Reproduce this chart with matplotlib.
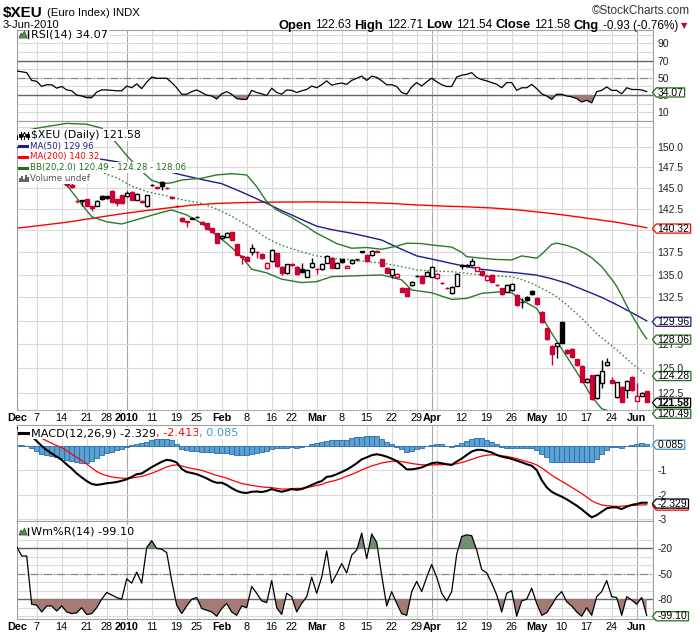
import matplotlib
matplotlib.use('Agg')
import matplotlib.pyplot as plt
import numpy as np
from matplotlib import transforms, font_manager
from matplotlib.path import Path
from matplotlib.patches import Rectangle, Polygon
from matplotlib.lines import Line2D
from matplotlib.ticker import NullLocator, NullFormatter

# trading day index: 0 = 1-Dec-2009 ... 126 = 3-Jun-2010
opens = [150.0,150.9,150.6,150.65,148.55,148.1,147.0,147.6,147.3,146.2,
         145.55,145.3,143.45,143.6,143.65,142.8,142.86,144.04,144.0,144.63,
         143.64,144.16,144.04,144.55,143.56,143.4,142.86,145.3,145.05,145.74,
         145.0,143.9,142.9,141.5,141.05,141.35,141.55,141.0,140.84,140.26,
         139.68,139.11,139.29,139.79,138.46,137.05,137.02,137.58,137.55,137.33,
         135.71,136.5,137.4,135.89,135.16,136.2,135.89,135.6,134.78,135.82,
         135.62,135.6,136.35,136.9,135.78,136.72,135.78,136.27,136.7,137.55,
         137.22,137.22,137.62,136.72,135.71,134.97,134.78,133.56,133.5,133.86,
         134.82,134.86,134.86,134.78,134.6,134.1,133.55,132.94,133.78,136.0,
         136.0,136.08,135.45,135.45,134.42,134.97,133.9,133.5,133.12,133.31,
         132.76,131.95,132.57,133.23,132.4,130.95,129.18,127.32,127.34,129.79,
         126.9,126.97,125.9,125.23,123.6,124.31,122.0,123.53,125.32,123.8,
         122.04,123.12,122.73,124.07,121.71,122.2,122.63]
highs = [151.4,151.3,151.4,150.9,148.9,148.4,147.9,147.9,147.6,146.6,
         145.75,145.6,143.6,143.6,143.7,142.9,143.6,144.1,144.05,144.7,
         143.7,144.2,144.63,144.6,144.4,143.6,144.2,145.45,145.15,145.8,
         145.1,144.0,143.0,141.6,141.15,141.55,141.7,141.05,140.9,140.3,
         139.7,139.45,139.8,139.85,138.5,137.2,137.1,138.46,137.65,137.4,
         136.4,137.85,137.45,135.95,136.2,136.3,135.95,136.27,135.6,136.9,
         135.75,136.3,137.2,137.0,136.45,136.8,136.1,136.75,136.8,137.7,
         137.3,137.8,137.75,136.8,135.8,135.65,135.15,133.6,133.55,134.3,
         135.0,134.95,135.4,136.0,135.15,134.2,133.65,133.75,135.15,136.15,
         136.2,136.9,135.9,135.5,135.0,135.05,134.0,133.55,133.95,134.05,
         132.85,132.4,132.65,133.35,132.5,131.0,129.25,127.4,127.75,129.9,
         127.0,127.05,125.95,125.3,123.95,124.35,124.4,125.83,126.0,124.07,
         123.6,123.2,123.8,124.15,123.46,122.6,122.71]
lows = [149.9,150.3,150.3,148.3,147.9,146.9,146.8,147.0,146.0,145.9,
        145.15,145.0,143.2,142.8,142.85,142.3,142.8,143.6,143.7,143.3,
        142.86,143.1,143.95,143.5,143.5,143.2,142.77,145.2,144.9,144.75,
        144.85,143.7,142.7,141.0,140.4,141.3,141.5,140.7,140.15,139.8,
        138.55,139.05,139.2,138.85,137.15,136.2,136.5,137.22,136.84,136.8,
        135.6,136.45,135.9,134.97,135.1,136.0,135.0,135.16,134.7,135.75,
        135.1,135.5,136.3,135.7,135.7,136.3,135.7,136.2,136.55,137.45,
        136.5,137.1,137.5,135.95,135.2,134.6,134.75,133.05,132.6,133.8,
        134.7,134.0,134.8,134.7,134.55,133.95,133.4,132.9,133.7,135.6,
        135.85,136.0,135.4,134.9,134.35,134.15,133.75,132.8,133.05,133.25,
        131.6,131.3,132.15,132.8,131.7,129.7,127.9,125.32,126.1,127.6,
        126.45,126.05,125.2,123.55,123.5,121.8,121.9,122.97,125.25,123.45,
        121.95,121.55,121.94,122.65,121.65,122.15,121.54]
closes = [150.9,150.6,150.65,148.55,148.1,147.0,147.6,147.3,146.2,146.3,
          145.3,145.15,143.4,143.45,142.9,142.6,143.46,143.64,143.76,143.36,
          143.17,143.15,144.44,143.56,144.28,143.36,144.16,145.35,145.0,145.23,
          144.95,143.85,142.86,141.1,141.0,141.42,141.6,140.8,140.2,139.86,
          138.6,139.37,139.68,138.91,137.22,137.0,136.55,138.05,137.5,136.84,
          136.34,137.78,135.97,135.16,136.16,136.1,135.1,135.33,135.52,136.34,
          135.58,136.2,137.1,135.78,136.34,136.38,136.0,136.65,136.72,137.6,
          136.58,137.66,137.58,136.0,135.24,135.6,135.08,133.12,132.68,134.23,
          134.86,134.05,135.33,135.89,135.08,134.05,133.5,133.67,135.08,136.04,
          136.08,136.53,135.8,134.97,134.9,134.23,133.85,132.87,133.86,133.97,
          131.68,132.0,132.21,132.87,131.8,129.79,128.0,126.48,127.6,127.65,
          126.55,126.14,125.28,123.63,123.87,121.84,124.31,124.75,125.66,123.53,
          123.55,121.6,123.7,122.73,122.19,122.51,121.58]

ma50_idx = [0,5,10,15,17,20,24,29,33,37,41,45,48,50,53,55,58,60,63,67,
            70,73,76,78,80,83,87,90,93,97,100,104,107,110,113,117,120,123,126]
ma50 = [149.6,149.35,149.05,148.65,148.45,148.15,147.7,147.15,146.55,146.0,
        145.5,144.5,143.7,143.17,142.3,141.8,141.0,140.5,140.1,139.68,
        139.3,138.9,138.1,137.6,137.1,136.75,136.25,135.9,135.6,135.35,
        135.2,134.95,134.55,134.05,133.4,132.5,131.7,130.85,129.96]
ma200_idx = [0,5,10,15,20,25,30,35,40,45,50,55,60,65,70,75,80,85,90,95,100,105,110,115,120,126]
ma200 = [140.26,140.6,140.95,141.4,141.85,142.25,142.6,142.95,143.15,143.25,143.3,143.32,143.33,
         143.3,143.25,143.15,142.97,142.85,142.75,142.62,142.4,142.1,141.75,141.35,140.95,140.32]
bb_up_idx = [0,5,10,14,17,20,22,25,27,29,31,33,37,40,43,46,48,50,52,55,
             58,60,62,64,67,70,73,76,78,81,83,87,89,90,93,96,99,101,104,105,
             107,108,110,112,113,115,117,119,120,121,122,123,124,125,126]
bb_up = [151.8,152.4,152.9,152.8,152.3,150.4,148.9,147.0,145.9,145.5,
         145.6,145.94,146.15,146.55,146.7,146.55,145.14,143.36,142.38,141.5,
         140.44,139.68,139.1,138.5,137.97,138.05,137.85,138.2,138.54,138.5,
         138.34,138.1,137.5,137.02,136.84,136.7,136.65,137.1,136.84,137.3,
         138.4,138.55,138.3,137.9,137.58,136.9,135.9,134.5,133.7,132.7,
         131.6,130.6,129.7,128.8,128.06]
bb_mid_idx = [0,5,10,14,17,20,23,26,30,33,37,40,43,47,50,53,57,60,63,67,
              70,73,77,80,84,87,90,93,96,99,101,103,106,108,110,113,116,120,123,126]
bb_mid = [149.0,148.5,147.7,147.2,146.85,146.2,145.2,144.55,144.04,143.6,
          143.15,142.5,141.65,140.3,139.1,138.3,137.55,137.1,136.85,136.65,
          136.45,136.3,135.9,135.52,135.4,135.33,135.15,134.97,134.85,134.75,
          134.45,134.05,133.2,132.57,131.7,130.25,128.6,126.9,125.5,124.28]
bb_lo_idx = [0,5,8,10,12,14,15,18,21,25,29,31,34,37,39,42,45,47,50,53,
             57,60,63,67,73,77,79,83,87,90,93,97,99,101,104,107,110,113,115,117,
             119,121,123,126]
bb_lo = [148.5,146.8,145.9,145.35,143.8,142.3,141.6,141.0,140.75,141.42,
         142.1,142.38,141.8,140.84,139.86,138.54,137.02,135.6,135.2,134.5,
         134.12,134.23,134.78,134.86,134.97,134.42,133.31,133.0,132.28,132.39,
         132.94,133.12,133.0,132.21,131.3,128.65,126.2,123.8,122.1,120.9,
         120.6,120.5,120.45,120.49]

rsi = [58,57,56,47,46,40,42,42,38,40, 36,35,30,29,27,27,33.5,36,36,35.5,
       35,35,40.5,38.5,43,37.5,45,51,49.5,49.5, 49.5,44.5,38.5,31,31,34,36,33,30,29,
       25.5,31.5,34,31,26,25,25,35.5,33,31.5, 29.5,38,33,31,36,35.5,33,35,36.5,40.5,
       38.5,42,46.5,41.5,43,44,42.5,47,49.5,52, 47,52,50.5,46.5,42,42,40,33,31,39.5,
       44.5,40.5,45.5,49.5,45.5,42,40,40,51,53, 54,56,50.5,48,46.5,44.5,42.5,38.5,44.5,44.5,
       35.5,38.5,38.5,42.5,37.5,31.5,29,25,31,31, 29,28,26,22,24,21,34,35.5,39.5,35.5,
       35.5,31.5,38.5,36.5,36.5,36,34.07]

macd = [0.75,0.65,0.52,0.40,0.20,0.0,-0.17,-0.31,-0.44,-0.57,
        -0.76,-0.93,-1.13,-1.29,-1.44,-1.56,-1.60,-1.57,-1.53,-1.51,
        -1.48,-1.43,-1.37,-1.27,-1.16,-1.13,-1.00,-0.87,-0.76,-0.65,
        -0.57,-0.60,-0.68,-0.94,-1.07,-1.11,-1.16,-1.24,-1.33,-1.44,
        -1.51,-1.51,-1.60,-1.73,-1.84,-1.91,-1.93,-1.88,-1.87,-1.89,
        -1.85,-1.77,-1.83,-1.88,-1.83,-1.77,-1.80,-1.77,-1.69,-1.60,
        -1.51,-1.44,-1.27,-1.24,-1.16,-1.07,-0.97,-0.85,-0.71,-0.55,
        -0.47,-0.38,-0.34,-0.38,-0.44,-0.52,-0.62,-0.78,-0.96,-0.96,
        -0.93,-0.88,-0.79,-0.71,-0.68,-0.71,-0.75,-0.78,-0.64,-0.52,
        -0.37,-0.23,-0.16,-0.16,-0.21,-0.27,-0.37,-0.44,-0.48,-0.53,
        -0.60,-0.67,-0.75,-0.81,-0.99,-1.40,-1.70,-1.88,-1.99,-2.08,
        -2.19,-2.32,-2.45,-2.60,-2.77,-2.93,-2.84,-2.70,-2.56,-2.52,
        -2.52,-2.59,-2.49,-2.42,-2.38,-2.33,-2.329]
signal = [0.72,0.63,0.55,0.48,0.40,0.31,0.21,0.11,0.02,-0.07,
          -0.20,-0.33,-0.47,-0.60,-0.74,-0.90,-1.05,-1.15,-1.22,-1.27,
          -1.30,-1.32,-1.33,-1.32,-1.28,-1.25,-1.19,-1.12,-1.04,-0.95,
          -0.86,-0.80,-0.78,-0.82,-0.88,-0.92,-0.96,-1.00,-1.07,-1.14,
          -1.21,-1.26,-1.32,-1.40,-1.47,-1.54,-1.58,-1.62,-1.65,-1.68,
          -1.70,-1.71,-1.74,-1.77,-1.77,-1.75,-1.74,-1.74,-1.71,-1.67,
          -1.62,-1.58,-1.50,-1.45,-1.40,-1.33,-1.24,-1.17,-1.08,-0.98,
          -0.90,-0.82,-0.76,-0.70,-0.66,-0.63,-0.62,-0.64,-0.68,-0.72,
          -0.75,-0.77,-0.78,-0.78,-0.77,-0.77,-0.76,-0.76,-0.73,-0.68,
          -0.62,-0.55,-0.48,-0.42,-0.38,-0.36,-0.37,-0.40,-0.43,-0.47,
          -0.52,-0.58,-0.64,-0.70,-0.78,-0.90,-1.05,-1.20,-1.33,-1.45,
          -1.57,-1.70,-1.82,-1.95,-2.10,-2.25,-2.35,-2.42,-2.45,-2.47,
          -2.48,-2.47,-2.45,-2.44,-2.43,-2.42,-2.413]
hist = [0.03,0.02,-0.02,-0.09,-0.20,-0.31,-0.37,-0.41,-0.47,-0.51,
        -0.56,-0.60,-0.65,-0.68,-0.69,-0.60,-0.49,-0.39,-0.29,-0.23,
        -0.16,-0.11,-0.04,0.05,0.09,0.13,0.17,0.23,0.27,0.28,
        0.28,0.25,0.10,-0.12,-0.17,-0.20,-0.21,-0.23,-0.23,-0.25,
        -0.29,-0.27,-0.27,-0.31,-0.36,-0.37,-0.37,-0.33,-0.29,-0.25,
        -0.20,-0.12,-0.09,-0.08,-0.07,-0.04,-0.07,-0.03,0.01,0.07,
        0.11,0.15,0.20,0.23,0.24,0.25,0.25,0.32,0.36,0.38,
        0.40,0.41,0.40,0.27,0.18,0.08,-0.03,-0.12,-0.23,-0.19,
        -0.12,-0.07,0.0,0.05,0.10,0.07,0.0,-0.04,0.04,0.11,
        0.22,0.30,0.34,0.32,0.25,0.18,0.08,-0.05,-0.07,-0.07,
        -0.08,-0.07,-0.08,-0.08,-0.16,-0.34,-0.47,-0.67,-0.67,-0.67,
        -0.67,-0.66,-0.67,-0.67,-0.67,-0.64,-0.55,-0.33,-0.16,-0.05,
        -0.03,-0.07,0.01,0.04,0.07,0.11,0.085]

willr = [-18,-29,-29,-86,-87,-95,-88,-88,-94,-88,
         -95,-97,-96,-90,-98,-97,-90,-80,-72,-75,
         -78,-80,-56,-61,-48,-61,-19,-11,-20,-21,
         -25,-58,-87,-97,-88,-80,-78,-91,-93,-95,
         -100,-91,-85,-95,-99,-88,-90,-65,-73,-82,
         -84,-58,-90,-98,-73,-77,-95,-85,-77,-54,
         -73,-54,-23,-61,-50,-38,-49,-28,-22,-2,
         -32,-3,-13,-52,-88,-71,-85,-97,-99,-71,
         -59,-71,-54,-39,-54,-73,-82,-71,-27,-6,
         -4,-5,-22,-45,-49,-61,-75,-95,-73,-70,
         -100,-82,-80,-67,-85,-99,-96,-87,-77,-71,
         -83,-88,-95,-100,-90,-99,-77,-71,-58,-77,
         -78,-99,-77,-81,-86,-78,-99.1]

label_idx = [0,4,9,14,18,22,27,32,36,41,46,51,55,60,65,70,75,80,83,89,94,99,104,109,114,119,124]
label_txt = ['Dec','7','14','21','28','2010','11','19','25','Feb','8','16','22','Mar','8','15',
             '22','29','Apr','12','19','26','May','10','17','24','Jun']
grid_idx = [0,4,9,14,18,22,27,32,36,41,46,51,55,60,65,70,75,80,83,84,89,94,99,104,109,114,119,124]
dark_idx = [22,83,124]

W, H = 700, 639
names = {f.name for f in font_manager.fontManager.ttflist}
NARROW = 'Liberation Sans Narrow' if 'Liberation Sans Narrow' in names else 'Liberation Sans'
plt.rcParams['font.family'] = ['Liberation Sans', 'DejaVu Sans']
VER = ['DejaVu Sans']

RED = '#cc0033'
GRID = '#dadada'
BORDER = '#a0a0a0'

fig = plt.figure(figsize=(7.0, 6.39), dpi=100)


def fx(x):
    return x / W


def fy(y):
    return 1 - y / H


def panel(top, bottom):
    return fig.add_axes([fx(16.7), fy(bottom), (653.2 - 16.7) / W, (bottom - top) / H])


ax_rsi = panel(30, 121)
ax_px = panel(121, 410)
ax_macd = panel(425, 521)
ax_wr = panel(521, 619.3)
axes = [ax_rsi, ax_px, ax_macd, ax_wr]

x = np.arange(len(closes))
for ax in axes:
    ax.set_xlim(0, 127.3)
    for s in ax.spines.values():
        s.set_color(BORDER)
        s.set_linewidth(0.8)
    for g in grid_idx:
        ax.axvline(g, color='#a8a8a8' if g in dark_idx else GRID, lw=0.8, zorder=0)
    ax.yaxis.tick_right()
    ax.tick_params(axis='both', length=0, labelsize=7.5, labelcolor='#202020')
    ax.tick_params(axis='y', pad=3)
    ax.set_xticks([])
ax_px.spines['bottom'].set_linestyle((0, (1, 1.5)))

for ax in (ax_px, ax_wr):
    ax.set_xticks(label_idx)
    ax.set_xticklabels(label_txt)
    ax.tick_params(axis='x', pad=2, labelsize=7.8, labelcolor='black')
    for t in ax.get_xticklabels():
        if not t.get_text().isdigit() or t.get_text() == '2010':
            t.set_fontweight('bold')

# ---- RSI ----
rsi_a = np.array(rsi)
ax_rsi.set_ylim(0, 105.4)
for v in range(10, 101, 10):
    ax_rsi.axhline(v, color=GRID, lw=0.8, zorder=0)
ax_rsi.axhline(70, color='#666666', lw=1.0, zorder=1)
ax_rsi.axhline(30, color='#666666', lw=1.0, zorder=1)
ax_rsi.axhline(50, color='#888888', lw=0.9, ls='-.', zorder=1)
ax_rsi.fill_between(x, rsi_a, 30, where=rsi_a < 30, interpolate=True, color='#a37a74', lw=0, zorder=2)
ax_rsi.plot(x, rsi_a, color='black', lw=0.9, zorder=3)
ax_rsi.set_yticks([10, 30, 50, 70, 90])
ax_rsi.set_yticklabels(['10', '30', '50', '70', '90'])

# ---- price ----
o, h, l, c = map(np.array, (opens, highs, lows, closes))
ax_px.set_yscale('log')
ax_px.set_ylim(120.77, 153.2)
ax_px.yaxis.set_minor_locator(NullLocator())
ax_px.yaxis.set_minor_formatter(NullFormatter())
for v in np.arange(122.5, 153, 2.5):
    ax_px.axhline(v, color=GRID, lw=0.8, zorder=0)
# 140.0 and 130.0 sit fully under the value tags, as in the original
ticks = [122.5, 125.0, 127.5, 132.5, 135.0, 137.5, 142.5, 145.0, 147.5, 150.0]
ax_px.set_yticks(ticks)
ax_px.set_yticklabels(['%.1f' % t for t in ticks])

ax_px.plot(ma200_idx, ma200, color='#ff0000', lw=1.0, zorder=2)
ax_px.plot(ma50_idx, ma50, color='#1c1c8c', lw=1.0, zorder=2)
ax_px.plot(bb_up_idx, bb_up, color='#2a7a2a', lw=1.0, zorder=2)
ax_px.plot(bb_lo_idx, bb_lo, color='#2a7a2a', lw=1.0, zorder=2)
ax_px.plot(bb_mid_idx, bb_mid, color='#3a8a3a', lw=1.0, ls=(0, (1.2, 1.6)), zorder=2)

prev = np.r_[c[0], c[:-1]]
col = np.where(c < prev, RED, 'black')
hollow = c > o
ax_px.vlines(x, l, h, colors=col, lw=1.0, zorder=3)
lo_b = np.minimum(o, c)
hi_b = np.maximum(o, c)
ax_px.bar(x, hi_b - lo_b, bottom=lo_b, width=0.8, color=np.where(hollow, 'white', col),
          edgecolor=col, lw=1.0, zorder=4)

# ---- MACD ----
ax_macd.set_ylim(-3.08, 0.86)
for v in (0, -1, -2, -3):
    ax_macd.axhline(v, color=GRID, lw=0.8, zorder=0)
ax_macd.bar(x, hist, width=1.0, color='#5aa2d4', edgecolor='#2c6ca4', lw=0.6, zorder=2)
ax_macd.plot(x, signal, color='#ff0000', lw=0.9, zorder=3)
ax_macd.plot(x, macd, color='black', lw=1.5, zorder=4)
ax_macd.set_yticks([-1, -2, -3])
ax_macd.set_yticklabels(['-1', '-2', '-3'])

# ---- Williams %R ----
wr_a = np.array(willr, dtype=float)
ax_wr.set_ylim(-103.7, 12.3)
for v in range(-10, -101, -10):
    ax_wr.axhline(v, color=GRID, lw=0.8, zorder=0)
ax_wr.axhline(-20, color='#666666', lw=1.0, zorder=1)
ax_wr.axhline(-80, color='#666666', lw=1.0, zorder=1)
ax_wr.axhline(-50, color='#888888', lw=0.9, ls='-.', zorder=1)
ax_wr.fill_between(x, wr_a, -80, where=wr_a < -80, interpolate=True, color='#a37a74', lw=0, zorder=2)
ax_wr.fill_between(x, wr_a, -20, where=wr_a > -20, interpolate=True, color='#6f8f6f', lw=0, zorder=2)
ax_wr.plot(x, wr_a, color='black', lw=0.9, zorder=3)
ax_wr.set_yticks([-20, -50, -80])
ax_wr.set_yticklabels(['-20', '-50', '-80'])


# ---- value tags on the right ----
def tag_box(x0, y0, width, height, mutation_size):
    p = 0.12 * mutation_size
    xa, xb = x0 - p, x0 + width + p
    ya, yb = y0 + 0.06 * height, y0 + height * 0.97
    tip = xa - 0.42 * (yb - ya)
    verts = [(xa, ya), (xb, ya), (xb, yb), (xa, yb), (tip, (ya + yb) / 2), (xa, ya)]
    codes = [Path.MOVETO] + [Path.LINETO] * 4 + [Path.CLOSEPOLY]
    return Path(verts, codes)


def tag(ax, val, txt, ec, bold=False):
    tr = transforms.blended_transform_factory(fig.transFigure, ax.transData)
    ax.text(fx(657.5), val, txt, transform=tr, ha='left', va='center_baseline', fontsize=7.5,
            fontweight='bold' if bold else 'normal', color='black', clip_on=False, zorder=20,
            bbox=dict(boxstyle=tag_box, fc='white', ec=ec, lw=0.9))


tag(ax_rsi, 34.07, '34.07', '#1e6e1e')
tag(ax_px, 140.32, '140.32', '#ff0000')
tag(ax_px, 129.96, '129.96', '#1c1c8c')
tag(ax_px, 128.06, '128.06', '#1e6e1e')
tag(ax_px, 124.28, '124.28', '#1e6e1e')
tag(ax_px, 121.58, '121.58', 'black', bold=True)
tag(ax_px, 120.49, '120.49', '#1e6e1e')
tag(ax_macd, 0.085, '0.085', '#3c96cc')
tag(ax_macd, -2.413, '-2.413', '#ff0000')
tag(ax_macd, -2.329, '-2.329', 'black')
tag(ax_wr, -99.10, '-99.10', '#1e6e1e')

# ---- text helpers ----
renderer = fig.canvas.get_renderer()
BG = dict(boxstyle='square,pad=0.1', fc='white', ec='none')
LEG = 8.1     # panel legends
SUB = 6.2     # overlay lines of the price legend


def ftext(xp, yp, s, **kw):
    return fig.text(fx(xp), fy(yp), s, **kw)


def runs(xp, yp, parts, ha='left', family=None, gap=0.0, bg=False):
    widths = []
    for s, color, weight, size in parts:
        t = fig.text(0, 0, s, fontsize=size, fontweight=weight, family=family)
        widths.append(t.get_window_extent(renderer).width)
        t.remove()
    total = sum(widths) + gap * (len(parts) - 1)
    x0 = xp - total if ha == 'right' else xp
    for (s, color, weight, size), w in zip(parts, widths):
        ftext(x0, yp, s, fontsize=size, fontweight=weight, family=family, color=color,
              va='baseline', zorder=7, bbox=BG if bg else None)
        x0 += w + gap


def icon_line(yp, color, lw=2.2):
    fig.add_artist(Line2D([fx(19), fx(28)], [fy(yp), fy(yp)], color=color, lw=lw, zorder=6))


def icon_mountain(yp):
    pts = [(19, yp + 3.5), (21, yp - 1.5), (22.5, yp + 0.5), (24.5, yp - 3.5), (27, yp + 3.5)]
    fig.add_artist(Polygon([(fx(a), fy(b)) for a, b in pts], closed=True, fc='#5a8a5a',
                           ec='#2f5f2f', lw=0.6, zorder=6))
    fig.add_artist(Line2D([fx(28), fx(28)], [fy(yp - 3.5), fy(yp + 3.5)], color='black', lw=1.0, zorder=6))


# header
ftext(3, 16.5, '$XEU', fontsize=11, fontweight='bold', family=NARROW, va='baseline')
ftext(47, 16, '(Euro Index) INDX', fontsize=8.2, family=NARROW, va='baseline')
ftext(690, 13.5, '\u00a9StockCharts.com', fontsize=8.5, family=NARROW, color='#333333',
      ha='right', va='baseline')
ftext(3, 28.5, '3-Jun-2010', fontsize=8, family=NARROW, va='baseline')
B, N = 9.4, 8.5
runs(678, 28.5, [('Open', 'black', 'bold', B), ('122.63', 'black', 'normal', N),
                 ('High', 'black', 'bold', B), ('122.71', 'black', 'normal', N),
                 ('Low', 'black', 'bold', B), ('121.54', 'black', 'normal', N),
                 ('Close', 'black', 'bold', B), ('121.58', 'black', 'normal', N),
                 ('Chg', 'black', 'bold', B), ('-0.93 (-0.76%)', 'black', 'normal', N)],
     ha='right', family=NARROW, gap=3.5)
ftext(684, 28, '\u25bc', fontsize=6, family=['DejaVu Sans'], color='#b0102a', ha='center',
      va='baseline')

# RSI legend
icon_mountain(34.5)
ftext(31, 34.5, 'RSI(14) 34.07', fontsize=LEG, family=VER, va='center', zorder=7, bbox=BG)

# price legend
fig.add_artist(Rectangle((fx(18), fy(184)), fx(13), 55 / H, fc='white', ec='none', zorder=5))
for k, xc in enumerate((20.5, 24, 27.5)):
    fig.add_artist(Line2D([fx(xc), fx(xc)], [fy(132), fy(139)], color='black', lw=0.8, zorder=6))
    fig.add_artist(Rectangle((fx(xc - 1.2), fy(137 - k % 2)), fx(2.4), 3.5 / H,
                             fc='black' if k != 1 else 'white', ec='black', lw=0.6, zorder=6))
ftext(31, 135, '$XEU (Daily) 121.58', fontsize=7.8, family=VER, va='center', zorder=7, bbox=BG)
icon_line(146, '#1c1c8c')
ftext(30, 146, 'MA(50) 129.96', fontsize=SUB, family=VER, color='#1c1c8c', va='center', zorder=7, bbox=BG)
icon_line(156.5, '#ff0000')
ftext(30, 156.5, 'MA(200) 140.32', fontsize=SUB, family=VER, color='#ff0000', va='center', zorder=7, bbox=BG)
icon_line(167.5, '#1e6e1e')
ftext(30, 167.5, 'BB(20,2.0) 120.49 - 124.28 - 128.06', fontsize=SUB, family=VER, color='#1e6e1e',
      va='center', zorder=7, bbox=BG)
for k, hb in enumerate((4, 6, 3, 7, 5)):
    fig.add_artist(Rectangle((fx(19 + 2 * k), fy(182)), fx(1.6), hb / H, fc='#666666', ec='none', zorder=6))
ftext(30, 178.5, 'Volume undef', fontsize=SUB, family=VER, color='#555555', va='center', zorder=7, bbox=BG)

# MACD legend
fig.add_artist(Rectangle((fx(18), fy(438)), fx(13), 11 / H, fc='white', ec='none', zorder=5))
icon_line(432.5, 'black')
runs(31, 436, [('MACD(12,26,9) -2.329', 'black', 'normal', LEG), (', -2.413', '#ff0000', 'normal', LEG),
               (', 0.085', '#3c96cc', 'normal', LEG)], family=VER, bg=True)

# Williams %R legend
icon_mountain(531.5)
ftext(31, 531.5, 'Wm%R(14) -99.10', fontsize=LEG, family=VER, va='center', zorder=7, bbox=BG)

fig.savefig('out.png', dpi=100, facecolor='white')
